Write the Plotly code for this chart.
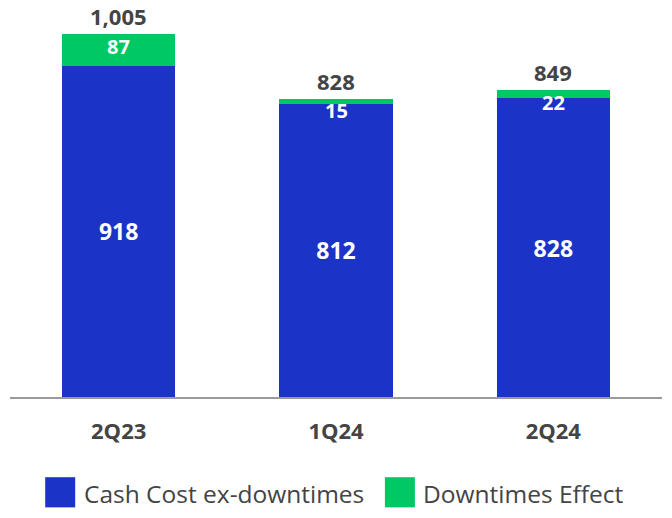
import plotly.graph_objects as go

categories = ["2Q23", "1Q24", "2Q24"]
cash_cost = [918, 812, 828]
downtimes = [87, 15, 22]
totals = [1005, 828, 849]
series_names = ["Cash Cost ex-downtimes", "Downtimes Effect"]
colors = ["#1b33c6", "#00c864"]

FONT = "Open Sans"
DARK = "#444444"

fig = go.Figure()
fig.add_trace(go.Bar(
    x=categories, y=cash_cost, name=series_names[0], marker_color=colors[0],
    marker_line_width=0,
    text=[str(v) for v in cash_cost], textposition="inside", insidetextanchor="middle",
    textangle=0,
    textfont=dict(color="white", size=23, family=FONT, weight="bold"),
))
fig.add_trace(go.Bar(
    x=categories, y=downtimes, name=series_names[1], marker_color=colors[1],
    marker_line_width=0, hoverinfo="y",
))

for cat, c, d, t in zip(categories, cash_cost, downtimes, totals):
    # downtimes label, hung just below the top of the bar
    fig.add_annotation(x=cat, y=c + d, text=str(d), showarrow=False,
                       yanchor="middle", yshift=-12,
                       font=dict(color="white", size=20, family=FONT, weight="bold"))
    # total label above the bar
    fig.add_annotation(x=cat, y=c + d, text=f"{t:,}", showarrow=False,
                       yanchor="middle", yshift=18,
                       font=dict(color=DARK, size=22, family=FONT, weight="bold"))

fig.update_layout(
    barmode="stack", bargap=0.48,
    width=672, height=518,
    margin=dict(l=10, r=10, t=0, b=121),
    plot_bgcolor="white", paper_bgcolor="white",
    showlegend=False,
    xaxis=dict(showline=True, linecolor="#9a9a9a", linewidth=2, ticks="",
               tickfont=dict(size=22, color=DARK, family=FONT, weight="bold"),
               ticklabelstandoff=14),
    yaxis=dict(range=[0, 1100], visible=False, showgrid=False),
)

# custom legend (large swatches)
sw_x = [0.054, 0.575]
for i, name in enumerate(series_names):
    x0 = sw_x[i]
    fig.add_shape(type="rect", xref="paper", yref="paper",
                  x0=x0, x1=x0 + 0.046, y0=-0.202, y1=-0.278,
                  fillcolor=colors[i], line_width=0)
    fig.add_annotation(xref="paper", yref="paper", x=x0 + 0.056, y=-0.242,
                       text=name, showarrow=False, xanchor="left", yanchor="middle",
                       font=dict(size=24.5, color=DARK, family=FONT))

fig.write_html("out.html", config={"displayModeBar": False},
               post_script="document.body.style.margin='0';document.body.style.overflow='hidden';")
